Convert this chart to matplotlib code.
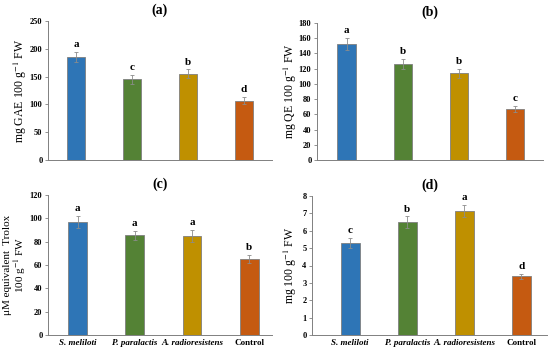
import numpy as np
import matplotlib.pyplot as plt

plt.rcParams['font.family'] = ['Liberation Serif', 'DejaVu Serif']
plt.rcParams['mathtext.fontset'] = 'stix'

categorias = ['S. meliloti', 'P. paralactis', 'A. radioresistens', 'Control']
colores = ['#2E75B6', '#548235', '#BF9000', '#C55A11']

fenoles = [185, 145, 155, 107]
fenoles_err = [9, 8, 8, 6]
fenoles_letras = ['a', 'c', 'b', 'd']

flavonoides = [152, 126, 114, 67]
flavonoides_err = [8, 7, 6, 4]
flavonoides_letras = ['a', 'b', 'b', 'c']

trolox = [97, 85.5, 85, 65.5]
trolox_err = [5, 4, 5, 3.5]
trolox_letras = ['a', 'a', 'a', 'b']

antocianinas = [5.3, 6.5, 7.15, 3.37]
antocianinas_err = [0.27, 0.33, 0.35, 0.15]
antocianinas_letras = ['c', 'b', 'a', 'd']

W, H = 550, 349
fig = plt.figure(figsize=(5.5, 3.49), dpi=100)


def panel(px, titulo, valores, errores, letras, ylim, paso, ylabel, labx, xlim, etiquetas, labsize=8.5):
    x0, x1, ytop, ybot = px
    ax = fig.add_axes([x0 / W, (H - ybot) / H, (x1 - x0) / W, (ybot - ytop) / H])
    x = np.arange(len(valores))
    ax.bar(x, valores, width=0.33, color=colores, edgecolor='#7f7f7f', linewidth=0.6,
           yerr=errores, error_kw=dict(ecolor='#8c8c8c', elinewidth=0.6, capsize=1.5, capthick=0.6))
    for xi, v, e, l in zip(x, valores, errores, letras):
        ax.text(xi, v + e + ylim * 0.02, l, ha='center', va='bottom', fontsize=8, fontweight='bold')
    ax.set_ylim(0, ylim)
    ax.set_yticks(np.arange(0, ylim + paso / 2, paso))
    ax.set_xlim(*xlim)
    ax.spines['top'].set_visible(False)
    ax.spines['right'].set_visible(False)
    for s in ['left', 'bottom']:
        ax.spines[s].set_color('#808080')
        ax.spines[s].set_linewidth(0.7)
    ax.tick_params(axis='y', labelsize=6, length=2, width=0.6, color='#808080', pad=2)
    for t in ax.get_yticklabels():
        t.set_fontweight('bold')
    ax.set_xticks(x)
    if etiquetas:
        ax.set_xticklabels(categorias, fontsize=6.5, fontweight='bold')
        for t in ax.get_xticklabels()[:3]:
            t.set_fontstyle('italic')
        ax.tick_params(axis='x', length=0, pad=3)
    else:
        ax.set_xticklabels([])
        ax.tick_params(axis='x', length=0)
    ax.set_ylabel(ylabel, fontsize=labsize, linespacing=1.0)
    ax.yaxis.label.set_verticalalignment('center')
    ax.yaxis.set_label_coords(labx, 0.5)
    ax.set_title(titulo, fontsize=10, fontweight='bold', pad=5)
    return ax


panel((48, 272, 21, 160), '(a)', fenoles, fenoles_err, fenoles_letras, 250, 50,
      'mg GAE 100 g$^{-1}$ FW', -0.125, (-0.5, 3.5), False)
panel((317, 543, 23, 160), '(b)', flavonoides, flavonoides_err, flavonoides_letras, 180, 20,
      'mg QE 100 g$^{-1}$ FW', -0.118, (-0.53, 3.5), False)
panel((48, 272, 195, 335), '(c)', trolox, trolox_err, trolox_letras, 120, 20,
      '\u03bcM equivalent  Trolox\n100 g$^{-1}$ FW', -0.145, (-0.52, 3.4), True, labsize=8)
panel((312, 547, 196, 335), '(d)', antocianinas, antocianinas_err, antocianinas_letras, 8, 1,
      'mg 100 g$^{-1}$ FW', -0.094, (-0.67, 3.45), True)

fig.savefig('out.png', dpi=100)
